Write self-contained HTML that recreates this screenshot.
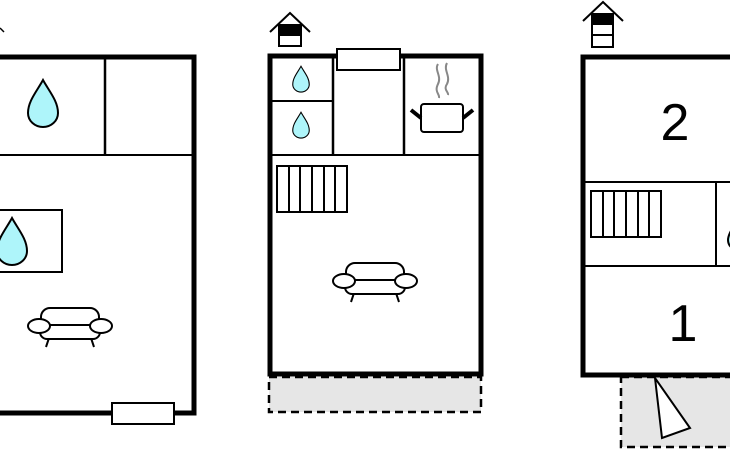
<!DOCTYPE html>
<html><head><style>html,body{margin:0;padding:0;background:#fff}svg{display:block}</style></head><body>
<svg width="730" height="450" viewBox="0 0 730 450" xmlns="http://www.w3.org/2000/svg">
<defs>
<g id="sofa" fill="#fff" stroke="#000" stroke-width="2">
<line x1="-21" y1="13" x2="-24" y2="22"/><line x1="21" y1="13" x2="24" y2="22"/>
<rect x="-29" y="-17" width="58" height="24" rx="9"/>
<rect x="-30" y="0" width="60" height="14" rx="7"/>
<ellipse cx="-31" cy="1" rx="11" ry="7"/><ellipse cx="31" cy="1" rx="11" ry="7"/>
</g>
<path id="drop" d="M0,-25 C6,-14 15,-4 15,8 C15,16 8,22 0,22 C-8,22 -15,16 -15,8 C-15,-4 -6,-14 0,-25Z" fill="#aef5fa" stroke="#000" stroke-width="2"/>
<g id="stairs" fill="#fff" stroke="#000" stroke-width="2">
<rect x="0" y="0" width="70" height="46"/>
<line x1="12" y1="0" x2="12" y2="46"/><line x1="23" y1="0" x2="23" y2="46"/><line x1="35" y1="0" x2="35" y2="46"/><line x1="47" y1="0" x2="47" y2="46"/><line x1="58" y1="0" x2="58" y2="46"/>
</g>
</defs>
<!-- LEFT -->
<path d="M0,28 L4,32" stroke="#000" stroke-width="1.5"/>
<path d="M-5,57 H194 V413 H-5" fill="none" stroke="#000" stroke-width="5"/>
<line x1="0" y1="155" x2="194" y2="155" stroke="#000" stroke-width="2"/>
<line x1="105" y1="57" x2="105" y2="155" stroke="#000" stroke-width="2.5"/>
<use href="#drop" transform="translate(43,105) scale(1)"/>
<rect x="-5" y="210" width="67" height="62" fill="#fff" stroke="#000" stroke-width="2"/>
<use href="#drop" transform="translate(12,243)"/>
<use href="#sofa" transform="translate(70,325)"/>
<rect x="112" y="403" width="62" height="21" fill="#fff" stroke="#000" stroke-width="2"/>
<!-- MIDDLE -->
<rect x="269" y="377" width="212" height="35" fill="#e6e6e6" stroke="#000" stroke-width="2.5" stroke-dasharray="8,5"/>
<rect x="270" y="56" width="211" height="318" fill="#fff" stroke="#000" stroke-width="5"/>
<line x1="272" y1="155" x2="479" y2="155" stroke="#000" stroke-width="2"/>
<line x1="333" y1="58" x2="333" y2="155" stroke="#000" stroke-width="2.5"/>
<line x1="404" y1="58" x2="404" y2="155" stroke="#000" stroke-width="2.5"/>
<line x1="272" y1="101" x2="333" y2="101" stroke="#000" stroke-width="2"/>
<rect x="337" y="49" width="63" height="21" fill="#fff" stroke="#000" stroke-width="2"/>
<use href="#drop" transform="translate(301,80) scale(0.55)"/>
<use href="#drop" transform="translate(301,126) scale(0.55)"/>
<path d="M438,64 C434,70 442,76 438,84 C434,92 440,94 439,98 M447,63 C443,70 451,76 447,84 C443,90 449,92 448,95" fill="none" stroke="#888" stroke-width="2"/>
<rect x="421" y="104" width="42" height="28" rx="3" fill="#fff" stroke="#000" stroke-width="2"/>
<line x1="411" y1="110" x2="421" y2="118" stroke="#000" stroke-width="4"/>
<line x1="473" y1="110" x2="463" y2="118" stroke="#000" stroke-width="4"/>
<use href="#stairs" transform="translate(277,166)"/>
<use href="#sofa" transform="translate(375,280)"/>
<path d="M270,32 L290,13 L310,32" fill="none" stroke="#000" stroke-width="2"/>
<rect x="279" y="25" width="22" height="21" fill="#fff" stroke="#000" stroke-width="2"/>
<rect x="279" y="25" width="22" height="11" fill="#000"/>
<!-- RIGHT -->
<rect x="621" y="377" width="115" height="70" fill="#e6e6e6" stroke="#000" stroke-width="2.5" stroke-dasharray="8,5"/>
<path d="M735,57 H583 V375 H735" fill="none" stroke="#000" stroke-width="5"/>
<line x1="585" y1="182" x2="730" y2="182" stroke="#000" stroke-width="2"/>
<line x1="585" y1="266" x2="730" y2="266" stroke="#000" stroke-width="2"/>
<line x1="716" y1="182" x2="716" y2="266" stroke="#000" stroke-width="2"/>
<path d="M738,218 C734,226 728,234 728,240 C728,246 733,250 738,250" fill="#aef5fa" stroke="#000" stroke-width="2"/>
<use href="#stairs" transform="translate(591,191)"/>
<text x="675" y="140" font-family="Liberation Sans, sans-serif" font-size="52" text-anchor="middle">2</text>
<text x="683" y="341" font-family="Liberation Sans, sans-serif" font-size="52" text-anchor="middle">1</text>
<polygon points="655,378 662,438 690,428" fill="#fff" stroke="#000" stroke-width="2"/>
<path d="M583,21 L603,2 L623,21" fill="none" stroke="#000" stroke-width="2"/>
<rect x="592" y="14" width="21" height="33" fill="#fff" stroke="#000" stroke-width="2"/>
<rect x="592" y="14" width="21" height="11" fill="#000"/>
<line x1="592" y1="35" x2="613" y2="35" stroke="#000" stroke-width="2"/>
</svg>
</body></html>
